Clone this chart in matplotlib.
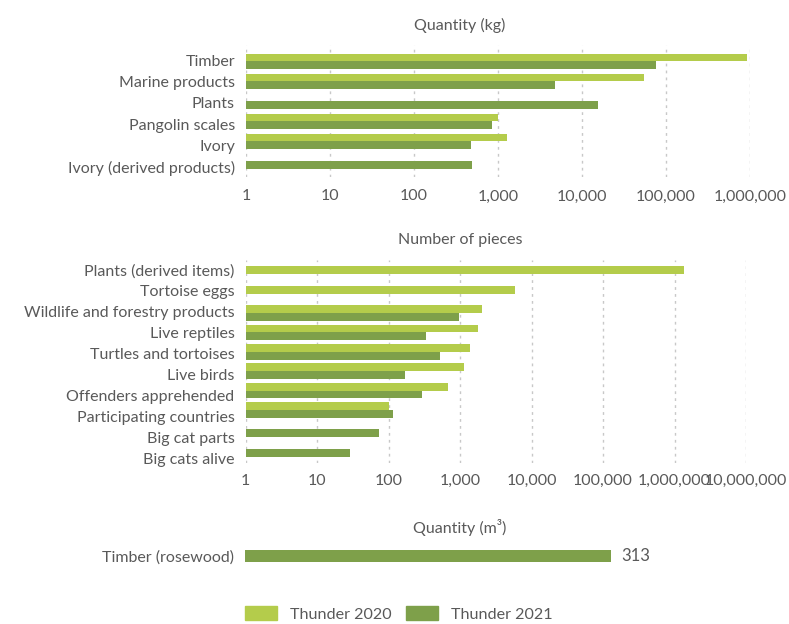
import numpy as np
import matplotlib
matplotlib.use("Agg")
import matplotlib.pyplot as plt
from matplotlib.ticker import FixedLocator, FuncFormatter, NullLocator
from matplotlib.patches import Patch

plt.rcParams['font.family'] = ['Lato', 'DejaVu Sans']
plt.rcParams['text.color'] = '#595959'

light = '#b4cc4b'
dark = '#7ea04a'
grey = '#595959'
fs = 11.5

# quantity (kg)
kg_cats = ["Timber", "Marine products", "Plants", "Pangolin scales", "Ivory",
           "Ivory (derived products)"]
kg_2020 = [930000, 55000, np.nan, 1000, 1290, np.nan]
kg_2021 = [75000, 4800, 15500, 850, 475, 495]

# number of pieces
pc_cats = ["Plants (derived items)", "Tortoise eggs", "Wildlife and forestry products",
           "Live reptiles", "Turtles and tortoises", "Live birds", "Offenders apprehended",
           "Participating countries", "Big cat parts", "Big cats alive"]
pc_2020 = [1370000, 5800, 2030, 1780, 1380, 1135, 675, 101, np.nan, np.nan]
pc_2021 = [np.nan, np.nan, 980, 337, 530, 170, 295, 115, 73, 29]

# quantity (m3)
m3_cats = ["Timber (rosewood)"]
m3_2021 = [313]

fig = plt.figure(figsize=(7.89, 6.24), dpi=100)


def log_panel(rect, cats, v20, v21, decades, bar_h, pad_y, xpad, lab_step, lab_off):
    ax = fig.add_axes(rect)
    y = np.arange(len(cats))
    ax.barh(y - bar_h / 2, np.array(v20) - 1, left=1, height=bar_h, color=light)
    ax.barh(y + bar_h / 2, np.array(v21) - 1, left=1, height=bar_h, color=dark)
    ax.set_xscale('log')
    ax.set_xlim(1, 10 ** decades)
    ax.set_ylim(len(cats) - 1 + pad_y, -pad_y)
    # category labels are spaced a little wider than the bar groups in the original
    ax.set_yticks(lab_off + y * lab_step)
    ax.set_yticklabels(cats)
    ticks = [10 ** k for k in range(decades + 1)]
    ax.xaxis.set_major_locator(FixedLocator(ticks))
    ax.xaxis.set_minor_locator(NullLocator())
    ax.xaxis.set_major_formatter(FuncFormatter(lambda v, p: f'{int(round(v)):,}'))
    ax.grid(axis='x', color='#c8c8c8', linestyle=(0, (2, 3)), linewidth=1)
    ax.set_axisbelow(True)
    for s in ax.spines.values():
        s.set_visible(False)
    ax.tick_params(axis='both', length=0, colors=grey, labelsize=fs)
    ax.tick_params(axis='x', pad=xpad)
    ax.tick_params(axis='y', pad=8)
    return ax


ax1 = log_panel([246 / 789, 1 - 177 / 624, 504 / 789, 132 / 624],
                kg_cats, kg_2020, kg_2021, 6, 0.375, 0.8, 9, 1.06, -0.02)
ax2 = log_panel([245.6 / 789, 1 - 463 / 624, 500.4 / 789, 203 / 624],
                pc_cats, pc_2020, pc_2021, 7, 0.4, 0.73, 8, 1.077, -0.21)

ax3 = fig.add_axes([245 / 789, 1 - 576 / 624, 501 / 789, 40 / 624])
ax3.barh([0], m3_2021, height=0.29, color=dark)
ax3.set_xlim(0, 428)
ax3.set_ylim(-0.5, 0.5)
ax3.set_yticks([0])
ax3.set_yticklabels(m3_cats)
ax3.set_xticks([])
for s in ax3.spines.values():
    s.set_visible(False)
ax3.tick_params(axis='y', length=0, colors=grey, labelsize=fs, pad=8)
for i, v in enumerate(m3_2021):
    ax3.annotate(f'{v}', (v, i), xytext=(7, 0), textcoords='offset points',
                 va='center', ha='left', color=grey, fontsize=12)

fig.text(460 / 789, 1 - 25 / 624, "Quantity (kg)", ha='center', va='center', color=grey, fontsize=fs)
fig.text(460 / 789, 1 - 240 / 624, "Number of pieces", ha='center', va='center', color=grey, fontsize=fs)
fig.text(460 / 789, 1 - 528 / 624, "Quantity (m\u00b3)", ha='center', va='center', color=grey, fontsize=fs)

handles = [Patch(color=light, label="Thunder 2020"), Patch(color=dark, label="Thunder 2021")]
fig.legend(handles=handles, loc='center', bbox_to_anchor=(399 / 789, 1 - 614 / 624),
           ncol=2, frameon=False, handlelength=1.98, handleheight=0.93,
           handletextpad=0.81, columnspacing=0.93, fontsize=11.6)

fig.savefig("out.png", dpi=100)
